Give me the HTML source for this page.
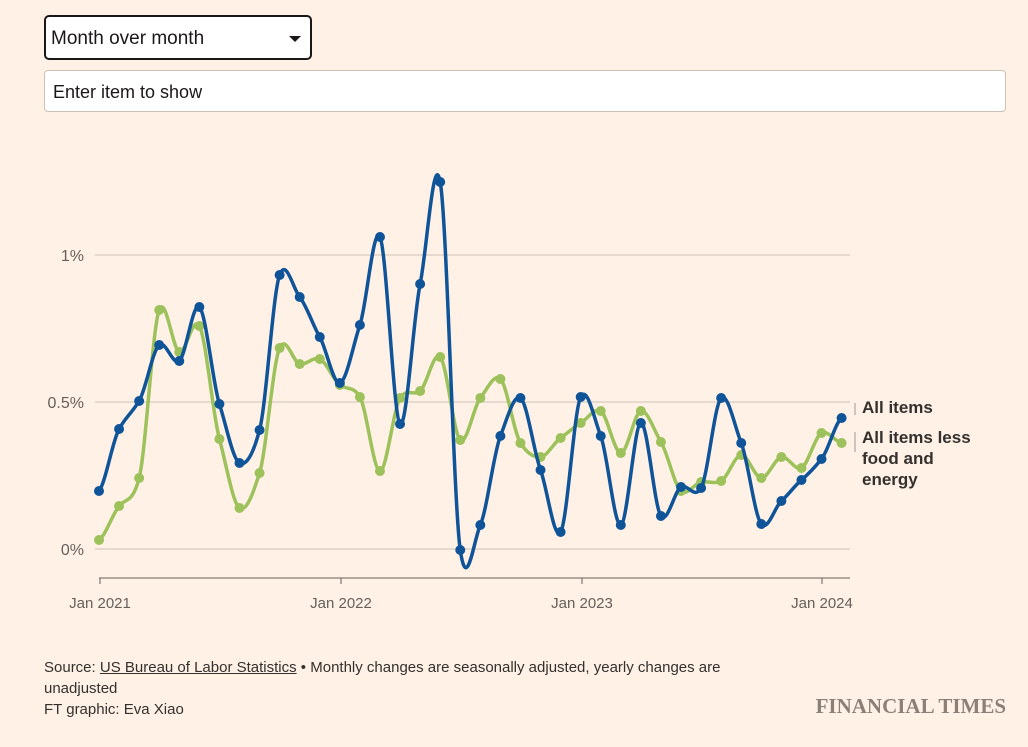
<!DOCTYPE html>
<html><head><meta charset="utf-8"><style>
body{margin:0;background:#fff1e5;font-family:"Liberation Sans",sans-serif;color:#33302e;}
.wrap{position:relative;width:1028px;height:747px;overflow:hidden;}
.sel{position:absolute;left:44px;top:15px;width:264px;height:41px;border:2px solid #1a1817;border-radius:5px;background:#fff;box-sizing:content-box;}
.sel span{position:absolute;left:5px;top:11px;font-size:19px;color:#1a1817;}
.sel i{position:absolute;right:9px;top:19px;width:0;height:0;border-left:6px solid transparent;border-right:6px solid transparent;border-top:6px solid #1a1817;}
.inp{position:absolute;left:44px;top:70px;width:960px;height:40px;border:1px solid #ccc1b7;border-radius:4px;background:#fff;}
.inp span{position:absolute;left:8px;top:11px;font-size:18px;color:#1a1817;}
.foot{position:absolute;left:44px;top:657px;font-size:15px;line-height:21px;color:#33302e;}
.ft{position:absolute;right:22px;top:694px;font-family:"Liberation Serif",serif;font-size:21px;color:#8a8078;font-weight:bold;letter-spacing:0px;}
</style></head><body><div class="wrap">
<div class="sel"><span>Month over month</span><i></i></div>
<div class="inp"><span>Enter item to show</span></div>
<svg width="1028" height="747" style="position:absolute;left:0;top:0">
<g stroke="#ccc1b7" stroke-width="1">
<line x1="95" y1="255" x2="850" y2="255"/>
<line x1="95" y1="402" x2="850" y2="402"/>
<line x1="95" y1="549" x2="850" y2="549"/>
</g>
<line x1="99" y1="578" x2="850" y2="578" stroke="#66605c" stroke-width="1"/>
<g stroke="#66605c"><line x1="100" y1="578" x2="100" y2="584"/><line x1="341" y1="578" x2="341" y2="584"/><line x1="582" y1="578" x2="582" y2="584"/><line x1="822" y1="578" x2="822" y2="584"/></g>
<g font-size="16" fill="#66605c">
<text x="84" y="261" text-anchor="end">1%</text>
<text x="84" y="408" text-anchor="end">0.5%</text>
<text x="84" y="555" text-anchor="end">0%</text>
<g text-anchor="middle" font-size="15"><text x="100" y="608">Jan 2021</text><text x="341" y="608">Jan 2022</text><text x="582" y="608">Jan 2023</text><text x="822" y="608">Jan 2024</text></g>
</g>
<g id="lines"></g>
<g font-size="17" font-weight="bold" fill="#33302e">
<text x="862" y="413">All items</text>
<text x="862" y="443">All items less</text>
<text x="862" y="464">food and</text>
<text x="862" y="485">energy</text>
</g>
<line x1="855" y1="403" x2="855" y2="415" stroke="#999" />
<line x1="855" y1="432" x2="855" y2="452" stroke="#999" />
</svg>
<div class="foot">Source: <u>US Bureau of Labor Statistics</u> • Monthly changes are seasonally adjusted, yearly changes are<br>unadjusted<br>FT graphic: Eva Xiao</div>
<div class="ft">FINANCIAL TIMES</div>
</div>
<script>
var bx=[491,429,401,345,361,307,404,463,430,275,297,337,383,325,237,424,284,182,550,525,436,398,470,532,397,436,525,423,516,487,488,398,443,524,501,480,459,418];
var gy=[540,506,478,310,352,326,439,508,473,348,364,359,385,397,471,398,391,357,440,398,379,443,457,438,423,411,453,411,442,491,482,481,455,478,457,468,433,443];
function X(i){return 99+i*20.07;}
function path(ys){var d="M"+X(0)+","+ys[0];for(var i=0;i<ys.length-1;i++){var p0=ys[Math.max(i-1,0)],p1=ys[i],p2=ys[i+1],p3=ys[Math.min(i+2,ys.length-1)];var x1=X(i),x2=X(i+1),dx=(x2-x1)/3;d+=" C"+(x1+dx)+","+(p1+(p2-p0)/7.5)+" "+(x2-dx)+","+(p2-(p3-p1)/7.5)+" "+x2+","+p2;}return d;}
var s="";
[[gy,"#9dc15b"],[bx,"#0f5499"]].forEach(function(a){s+='<path d="'+path(a[0])+'" fill="none" stroke="'+a[1]+'" stroke-width="3.5"/>';a[0].forEach(function(y,i){s+='<circle cx="'+X(i)+'" cy="'+y+'" r="5" fill="'+a[1]+'"/>';});});
document.getElementById("lines").innerHTML=s;
</script>
</body></html>
